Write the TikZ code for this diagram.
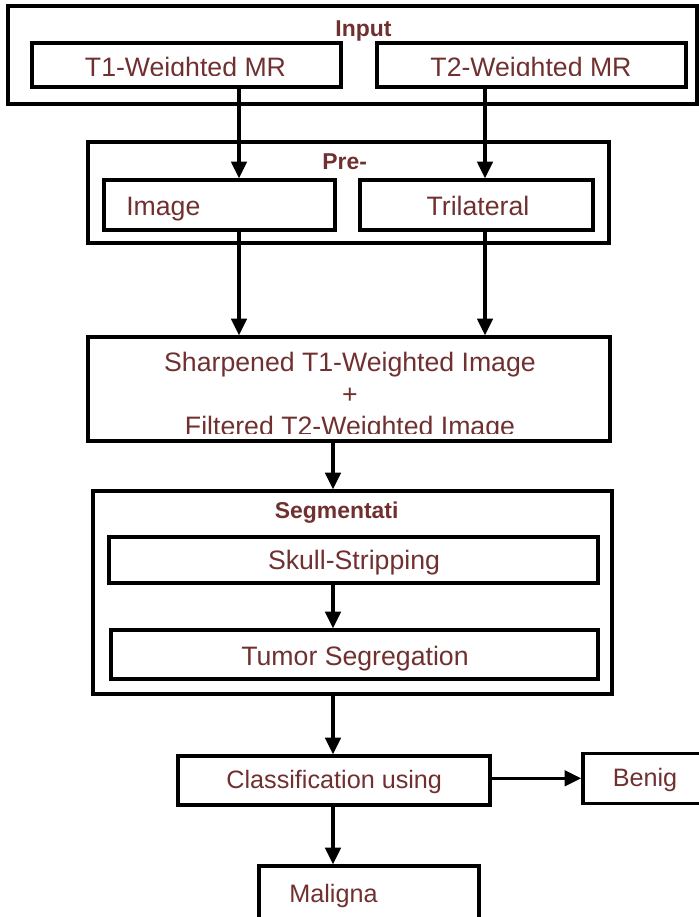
\documentclass[tikz,border=0pt]{standalone}
\usepackage{fontspec}
\setmainfont{Liberation Sans}
\usetikzlibrary{arrows.meta}
\definecolor{tc}{RGB}{112,48,48}
\begin{document}
\begin{tikzpicture}[x=0.75pt,y=-0.75pt,
  box/.style 2 args={draw=black, line width=2.5pt, inner sep=0pt,
    minimum width={#1*0.75pt}, minimum height={#2*0.75pt}},
  lbl/.style={text=tc, font=\fontsize{20}{24}\selectfont, inner sep=0pt, anchor=base},
  lbls/.style={text=tc, font=\fontsize{18.9}{23}\selectfont, inner sep=0pt, anchor=base},
  ttl/.style={text=tc, font=\fontsize{17.2}{21}\selectfont\bfseries, inner sep=0pt, anchor=base},
  arr/.style={line width=2.5pt, -{Triangle[width=11.5pt,length=12.5pt]}}]
\useasboundingbox (0,0) rectangle (699,917);
\clip (0,0) rectangle (699,917);
% Input group
\node[box={689}{98}] (inp) at (352.5,55) {};
\node[ttl] (inpt) at (363.4,36.7) {Input};
\node[box={309}{44}] (t1) at (186.5,65) {};
\node[box={309}{44}] (t2) at (531.5,65) {};
\begin{scope}
\clip (0,40) rectangle (699,75.5);
\node[lbl] (t1t) at (185.5,76.8) {T1-Weighted MR};
\node[lbl] (t2t) at (531,76.8) {T2-Weighted MR};
\end{scope}
% Pre group
\node[box={521}{101}] (pre) at (348.5,192.5) {};
\node[ttl] (pret) at (344.7,169) {Pre-};
\node[box={231}{50}] (img) at (219.5,205) {};
\node[box={233}{50}] (tri) at (476.5,205) {};
\node[lbl, anchor=base west] (imgt) at (126,215.5) {Image};
\node[lbl] (trit) at (478,215.5) {Trilateral};
% Combined
\node[box={522}{104}] (sh) at (349,389) {};
\node[lbl] (sh1) at (350,371.7) {Sharpened T1-Weighted Image};
\node[lbl] (sh2) at (350,403.5) {+};
\begin{scope}
\clip (88,337) rectangle (610,433.5);
\node[lbl] (sh3) at (350,435.3) {Filtered T2-Weighted Image};
\end{scope}
% Segmentation
\node[box={519}{203}] (seg) at (352.5,592.5) {};
\node[ttl] (segt) at (336.7,518.3) {Segmentati};
\node[box={489}{46}] (sk) at (353.5,560) {};
\node[lbl] (skt) at (354,569.5) {Skull-Stripping};
\node[box={487}{49}] (tu) at (354.5,654.5) {};
\node[lbl] (tut) at (355,665.5) {Tumor Segregation};
% Classification
\node[box={312}{49}] (cl) at (334,780.5) {};
\node[lbls] (clt) at (334.2,788.3) {Classification using};
\node[box={126}{50}] (be) at (646,778.3) {};
\node[lbls] (bet) at (645,786.7) {Benig};
\node[box={220}{64}] (ma) at (369,898) {};
\node[lbls] (mat) at (333.5,902.5) {Maligna};
% connectors
\coordinate (xa) at (239,0);
\coordinate (xb) at (485,0);
\coordinate (xc) at (333,0);
\draw[arr] (xa |- t1.south) -- (xa |- img.north);
\draw[arr] (xb |- t2.south) -- (xb |- tri.north);
\draw[arr] (xa |- img.south) -- (xa |- sh.north);
\draw[arr] (xb |- tri.south) -- (xb |- sh.north);
\draw[arr] (xc |- sh.south) -- (xc |- seg.north);
\draw[arr] (xc |- sk.south) -- (xc |- tu.north);
\draw[arr] (xc |- seg.south) -- (xc |- cl.north);
\draw[arr] (cl.east |- be.west) -- (be.west);
\draw[arr] (xc |- cl.south) -- (xc |- ma.north);
\end{tikzpicture}
\end{document}
